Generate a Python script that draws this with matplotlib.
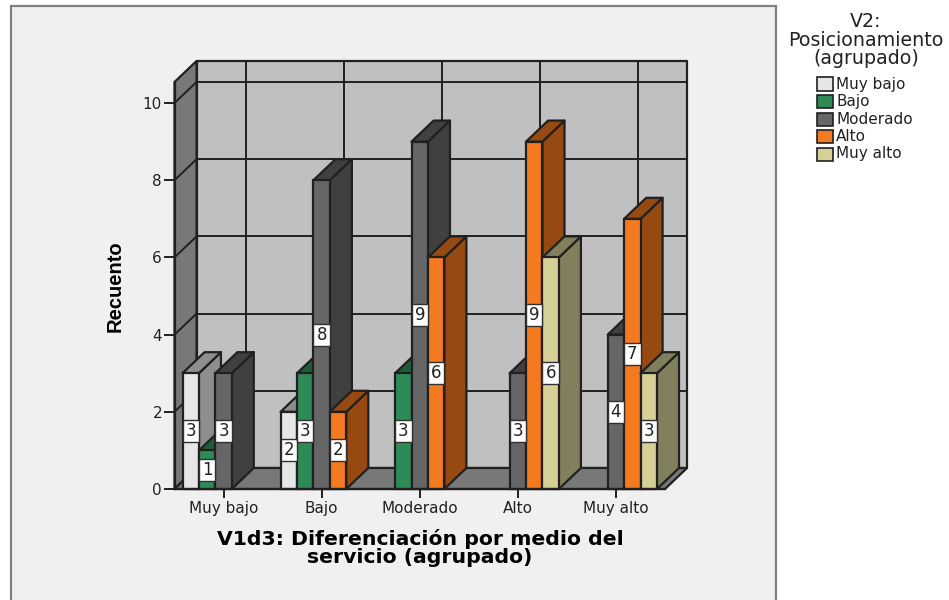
import matplotlib
matplotlib.use('Agg')
import matplotlib.pyplot as plt
from matplotlib.patches import Polygon, Rectangle

categories = ['Muy bajo', 'Bajo', 'Moderado', 'Alto', 'Muy alto']
series_names = ['Muy bajo', 'Bajo', 'Moderado', 'Alto', 'Muy alto']

# Recuento por serie, 0 = sin barra
muy_bajo = [3, 2, 0, 0, 0]
bajo = [1, 3, 3, 0, 0]
moderado = [3, 8, 9, 3, 4]
alto = [0, 2, 6, 9, 7]
muy_alto = [0, 0, 0, 6, 3]
series = [muy_bajo, bajo, moderado, alto, muy_alto]

front_colors = ['#e6e6e6', '#2e8b57', '#666666', '#f47a20', '#d6cf96']
side_colors = ['#8e8e8e', '#1f5c3a', '#404040', '#964a12', '#82805c']

EDGE = '#202020'
LW = 1.6
W = 949
H = 600
# profundidad del efecto 3D, en unidades de los ejes
DX = 22 / 98
DY = 21 / 38.6
BAR_W = 16.4 / 98
BOX_H = 22 / 38.6
YMAX = 407 / 38.6

plt.rcParams['font.family'] = ['DejaVu Sans']

fig = plt.figure(figsize=(W / 100, H / 100), dpi=100, facecolor='white')

# panel de fondo, debajo de los ejes
fig.patches.append(Rectangle((10.5 / W, -0.02), 765 / W, 1.01 - 6 / H + 0.01,
                             transform=fig.transFigure, facecolor='#f0f0f0',
                             edgecolor='#808080', linewidth=1.6, figure=fig, zorder=-1))

ax = fig.add_axes([174.5 / W, (H - 489) / H, 490.5 / W, 407 / H])
ax.patch.set_visible(False)
ax.set_xlim(0, 5)
ax.set_ylim(0, YMAX)


def poly(points, color, z):
    ax.add_patch(Polygon(points, closed=True, facecolor=color, edgecolor=EDGE,
                         linewidth=LW, zorder=z, clip_on=False, joinstyle='round'))


# paredes y piso
poly([(DX, DY), (5 + DX, DY), (5 + DX, YMAX + DY), (DX, YMAX + DY)], '#c0c0c0', 1)
poly([(0, 0), (DX, DY), (DX, YMAX + DY), (0, YMAX)], '#787878', 1)
poly([(0, 0), (5, 0), (5 + DX, DY), (DX, DY)], '#787878', 1)

# rejilla
for v in [2, 4, 6, 8, 10]:
    ax.plot([DX, 5 + DX], [v + DY, v + DY], color=EDGE, lw=1.4, zorder=2, clip_on=False)
    ax.plot([0, DX], [v, v + DY], color=EDGE, lw=1.4, zorder=2, clip_on=False)
for i in range(5):
    ax.plot([i + 0.5 + DX, i + 0.5 + DX], [DY, YMAX + DY], color=EDGE, lw=1.4,
            zorder=2, clip_on=False)

# barras de izquierda a derecha, las de la derecha tapan a las otras
z = 3
for i in range(len(categories)):
    for j, vals in enumerate(series):
        v = vals[i]
        if v == 0:
            continue
        left = i + 0.5 + (j - 2.5) * BAR_W
        right = left + BAR_W
        center = left + BAR_W / 2
        poly([(right, 0), (right + DX, DY), (right + DX, v + DY), (right, v)], side_colors[j], z)
        poly([(left, v), (right, v), (right + DX, v + DY), (left + DX, v + DY)], side_colors[j], z)
        ax.bar(center, v, BAR_W, color=front_colors[j], edgecolor=EDGE,
               linewidth=LW, zorder=z + 0.5, clip_on=False)
        # caja blanca de la etiqueta, mas alta que ancha
        ax.bar(center, BOX_H, BAR_W, bottom=v / 2 - BOX_H / 2, color='white', edgecolor='#303030',
               linewidth=1.0, zorder=49, clip_on=False)
        ax.text(center, v / 2, str(v), ha='center', va='center', fontsize=12,
                color='#222222', zorder=50)
        z += 1

ax.spines['top'].set_visible(False)
ax.spines['right'].set_visible(False)
for s in ['left', 'bottom']:
    ax.spines[s].set_linewidth(1.6)
    ax.spines[s].set_color(EDGE)
    ax.spines[s].set_zorder(40)

ax.set_xticks([i + 0.5 for i in range(5)])
ax.set_xticklabels(categories, fontsize=11, color='#222222')
ax.set_yticks([0, 2, 4, 6, 8, 10])
ax.tick_params(axis='x', length=6.5, width=1.4, color=EDGE, pad=2)
ax.tick_params(axis='y', length=8, width=1.4, color=EDGE, pad=1, labelsize=11, labelcolor='#222222')

fig.text(115 / W, 1 - 286 / H, 'Recuento', rotation=90, ha='center', va='center',
         fontsize=14.5, fontweight='bold', family='Liberation Sans', color='black')
fig.text(420 / W, 1 - 548 / H, 'V1d3: Diferenciación por medio del\nservicio (agrupado)',
         ha='center', va='center', fontsize=14.7, fontweight='bold', linespacing=0.95, color='black')

# leyenda a mano, igual que en la imagen
fig.text(866 / W, 1 - 40 / H, 'V2:\nPosicionamiento\n(agrupado)', ha='center', va='center',
         fontsize=13.7, linespacing=0.95, color='#222222')
for j, name in enumerate(series_names):
    yc = 84 + j * 17.5
    fig.patches.append(Rectangle((816.5 / W, 1 - (yc + 6.5) / H), 16 / W, 13 / H,
                                 transform=fig.transFigure, facecolor=front_colors[j],
                                 edgecolor=EDGE, linewidth=1.2, figure=fig))
    fig.text(836 / W, 1 - yc / H, name, ha='left', va='center', fontsize=11, color='#222222')

fig.savefig('out.png', dpi=100, facecolor='white')
